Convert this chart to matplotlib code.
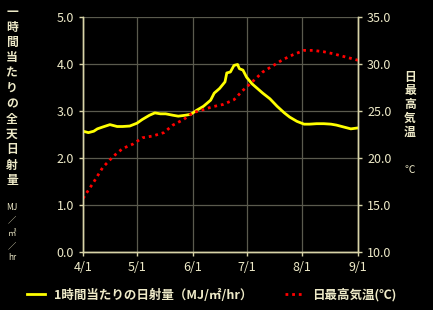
import matplotlib
matplotlib.use("Agg")
import matplotlib.pyplot as plt

plt.rcParams['font.family'] = ['Noto Sans CJK JP', 'DejaVu Sans']

# days since Apr 1
solar_days = [0, 3, 6, 8, 11, 15, 19, 22, 26, 30, 33, 37, 40, 43, 46, 50, 53, 57, 60, 63, 67, 71, 73, 76,
              79, 80, 82, 84, 86, 87, 89, 91, 94, 97, 100, 104, 108, 112, 115, 119, 123, 126, 130, 134,
              138, 141, 145, 149, 153]
solar_vals = [2.57, 2.54, 2.57, 2.62, 2.66, 2.71, 2.67, 2.67, 2.68, 2.74, 2.82, 2.91, 2.96, 2.94, 2.94,
              2.91, 2.89, 2.91, 2.93, 3.01, 3.10, 3.23, 3.38, 3.48, 3.62, 3.81, 3.83, 3.97, 3.99, 3.90,
              3.87, 3.72, 3.58, 3.48, 3.38, 3.26, 3.10, 2.96, 2.87, 2.78, 2.72, 2.72, 2.73, 2.73, 2.72,
              2.70, 2.66, 2.62, 2.64]
temp_days = [0, 6, 11, 17, 22, 28, 33, 39, 45, 50, 56, 61, 67, 72, 78, 84, 89, 95, 100, 106, 111, 117,
             123, 128, 134, 139, 145, 153]
temp_vals = [15.7, 17.45, 19.0, 20.2, 21.0, 21.5, 22.15, 22.35, 22.7, 23.5, 24.1, 24.8, 25.15, 25.45,
             25.7, 26.2, 27.2, 28.25, 29.15, 29.85, 30.45, 31.0, 31.45, 31.45, 31.3, 31.1, 30.8, 30.4]
month_ticks = [0, 30, 61, 91, 122, 153]
month_labels = ['4/1', '5/1', '6/1', '7/1', '8/1', '9/1']
left_ticks = [0.0, 1.0, 2.0, 3.0, 4.0, 5.0]
right_ticks = [10.0, 15.0, 20.0, 25.0, 30.0, 35.0]

TXT = '#EEEAC8'
AX = '#D8D4A8'

fig = plt.figure(figsize=(4.33, 3.10), dpi=100, facecolor='black')
ax = fig.add_axes([83/433, 1-252/310, 275/433, 235/310])
ax.set_facecolor('black')
ax2 = ax.twinx()

l1, = ax.plot(solar_days, solar_vals, color='#FFFF00', lw=2.0, zorder=3,
              label='1時間当たりの日射量（MJ/㎡/hr）')
l2, = ax2.plot(temp_days, temp_vals, color='#FF0000', lw=2.0, linestyle=(0, (1.0, 1.4)),
               label='日最高気温(℃)')

ax.set_xlim(0, 153)
ax.set_ylim(0, 5)
ax2.set_ylim(10, 35)
ax.set_xticks(month_ticks)
ax.set_xticklabels(month_labels)
ax.set_yticks(left_ticks)
ax.set_yticklabels([f'{v:.1f}' for v in left_ticks])
ax2.set_yticks(right_ticks)
ax2.set_yticklabels([f'{v:.1f}' for v in right_ticks])

ax.grid(True, color='#5A5A4E', lw=0.9)
for a in (ax, ax2):
    for s in a.spines.values():
        s.set_color(AX)
        s.set_linewidth(1.0)
    a.tick_params(colors=AX, labelcolor=TXT, labelsize=9, length=3, width=1)
ax2.spines['top'].set_visible(False)
ax.spines['top'].set_visible(False)

# left vertical label
chars = list('一時間当たりの全天日射量')
y = 12
for c in chars:
    fig.text(12/433, 1-y/310, c, color=TXT, fontsize=8.5, ha='center', va='center', fontweight='bold')
    y += 15.3
for c, yy in zip(['MJ', '／', '㎡', '／', 'hr'], [208, 220, 233, 246, 257]):
    fig.text(12/433, 1-yy/310, c, color=TXT, fontsize=6, ha='center', va='center')

# right vertical label
for c, yy in zip(list('日最高気温'), [77, 91, 104, 118, 132]):
    fig.text(410/433, 1-yy/310, c, color=TXT, fontsize=8.5, ha='center', va='center', fontweight='bold')
fig.text(410/433, 1-170/310, '℃', color=TXT, fontsize=7.5, ha='center', va='center')

leg = fig.legend(handles=[l1, l2], loc='center left', bbox_to_anchor=(27/433, 1-295/310),
                 ncol=2, frameon=False, handlelength=1.45, handletextpad=0.7,
                 columnspacing=2.6, borderpad=0, borderaxespad=0, fontsize=9)
for t in leg.get_texts():
    t.set_color(TXT)
    t.set_fontweight('bold')

fig.savefig('out.png', dpi=100, facecolor='black')
